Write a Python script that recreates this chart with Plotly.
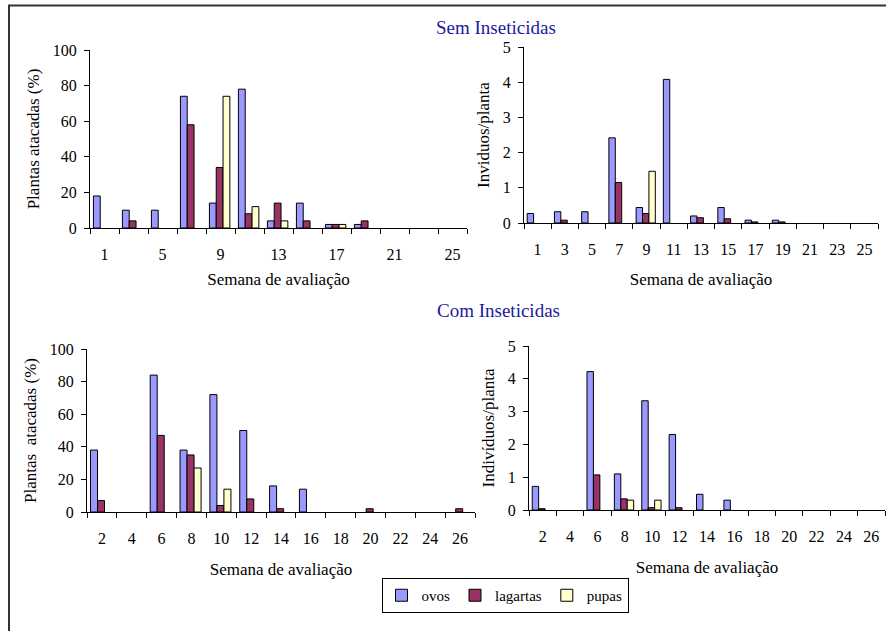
import plotly.graph_objects as go

# ---- data -------------------------------------------------------------
series = ["ovos", "lagartas", "pupas"]
colors = ["#9999FF", "#993366", "#FFFFCC"]

# Sem inseticidas (odd weeks)
weeks_sem = [1, 3, 5, 7, 9, 11, 13, 15, 17, 19, 21, 23, 25]
sem_pct_ovos = [18, 10, 10, 74, 14, 78, 4, 14, 2, 2, 0, 0, 0]
sem_pct_lagartas = [0, 4, 0, 58, 34, 8, 14, 4, 2, 4, 0, 0, 0]
sem_pct_pupas = [0, 0, 0, 0, 74, 12, 4, 0, 2, 0, 0, 0, 0]
sem_ind_ovos = [0.27, 0.32, 0.32, 2.42, 0.44, 4.08, 0.20, 0.44, 0.08, 0.08, 0, 0, 0]
sem_ind_lagartas = [0, 0.08, 0, 1.15, 0.27, 0, 0.15, 0.12, 0.03, 0.03, 0, 0, 0]
sem_ind_pupas = [0, 0, 0, 0, 1.47, 0, 0, 0, 0, 0, 0, 0, 0]

# Com inseticidas (even weeks)
weeks_com = [2, 4, 6, 8, 10, 12, 14, 16, 18, 20, 22, 24, 26]
com_pct_ovos = [38, 0, 84, 38, 72, 50, 16, 14, 0, 0, 0, 0, 0]
com_pct_lagartas = [7, 0, 47, 35, 4, 8, 2, 0, 0, 2, 0, 0, 2]
com_pct_pupas = [0, 0, 0, 27, 14, 0, 0, 0, 0, 0, 0, 0, 0]
com_ind_ovos = [0.72, 0, 4.22, 1.10, 3.33, 2.30, 0.48, 0.30, 0, 0, 0, 0, 0]
com_ind_lagartas = [0.04, 0, 1.07, 0.34, 0.07, 0.07, 0, 0, 0, 0, 0, 0, 0]
com_ind_pupas = [0, 0, 0, 0.30, 0.30, 0, 0, 0, 0, 0, 0, 0, 0]

ticks_tl = [1, 5, 9, 13, 17, 21, 25]
ticks_tr = weeks_sem
ticks_bottom = weeks_com

# ---- page geometry ----------------------------------------------------
W, H = 886, 631
FONT = "Liberation Serif, Times New Roman, serif"


def px_x(a, b):
    return [a / W, b / W]


def px_y(top, bottom):
    return [1 - bottom / H, 1 - top / H]


panels = [
    # axis suffix, x-domain, y-domain, weeks, values, y max, y dtick,
    # x labels, y title, x-title standoff
    ("", px_x(90, 467), px_y(50, 228), weeks_sem,
     [sem_pct_ovos, sem_pct_lagartas, sem_pct_pupas], 100, 20, ticks_tl,
     "Plantas atacadas (%)", 10),
    ("2", px_x(524, 878), px_y(47, 223), weeks_sem,
     [sem_ind_ovos, sem_ind_lagartas, sem_ind_pupas], 5, 1, ticks_tr,
     "Inviduos/planta", 15),
    ("3", px_x(87, 475), px_y(349, 512), weeks_com,
     [com_pct_ovos, com_pct_lagartas, com_pct_pupas], 100, 20, ticks_bottom,
     "Plantas  atacadas (%)", 16),
    ("4", px_x(529, 885), px_y(346, 510), weeks_com,
     [com_ind_ovos, com_ind_lagartas, com_ind_pupas], 5, 1, ticks_bottom,
     "Indivíduos/planta", 16),
]

BAR_W = 0.47          # bar width in week units (category spans 2 weeks)
FIRST_OFF = -0.765    # left edge of the first bar relative to the category centre

fig = go.Figure()
layout = {}

for p_idx, (sfx, xd, yd, weeks, vals, ymax, dtick, xlabels, ytitle, xstand) in enumerate(panels):
    for s_idx, (name, col, v) in enumerate(zip(series, colors, vals)):
        # zero counts are left empty so no flat outline is drawn on the axis
        shown = [val if val != 0 else None for val in v]
        fig.add_trace(go.Bar(
            x=weeks, y=shown, name=name,
            xaxis="x" + sfx, yaxis="y" + sfx,
            width=BAR_W, offset=FIRST_OFF + s_idx * BAR_W,
            marker=dict(color=col, line=dict(color="#000000", width=1)),
            showlegend=(p_idx == 0), legendgroup=name,
        ))
    lo, hi = weeks[0] - 1, weeks[-1] + 1
    bounds = list(range(lo, hi + 1, 2))
    layout["xaxis" + sfx] = dict(
        domain=xd, anchor="y" + sfx, range=[lo, hi],
        tickmode="array", tickvals=xlabels, ticktext=[str(t) for t in xlabels],
        ticks="", showline=True, linecolor="black", linewidth=1,
        showgrid=False, zeroline=False, ticklabelstandoff=12, automargin=False,
        minor=dict(tickmode="array", tickvals=bounds, ticks="outside",
                   ticklen=5, tickcolor="black", showgrid=False),
        tickfont=dict(family=FONT, size=16, color="black"),
        title=dict(text="Semana de avaliação", standoff=xstand,
                   font=dict(family=FONT, size=17, color="black")),
    )
    layout["yaxis" + sfx] = dict(
        domain=yd, anchor="x" + sfx, range=[0, ymax], dtick=dtick,
        ticks="outside", ticklen=5, tickcolor="black",
        showline=True, linecolor="black", linewidth=1,
        showgrid=False, zeroline=False, ticklabelstandoff=4, automargin=False,
        tickfont=dict(family=FONT, size=16, color="black"),
        title=dict(text=ytitle, standoff=8,
                   font=dict(family=FONT, size=17, color="black")),
    )

fig.update_layout(
    width=W, height=H,
    margin=dict(l=0, r=0, t=0, b=0, autoexpand=False),
    paper_bgcolor="white", plot_bgcolor="white",
    barmode="overlay",
    font=dict(family=FONT, color="black"),
    legend=dict(
        orientation="h", x=505 / W, y=1 - 578 / H,
        xanchor="center", yanchor="top",
        bordercolor="black", borderwidth=1,
        font=dict(family=FONT, size=15, color="black"),
        itemwidth=30, tracegroupgap=0,
    ),
    annotations=[
        dict(text="Sem Inseticidas", x=496 / W, y=1 - 27 / H,
             xref="paper", yref="paper", xanchor="center", yanchor="middle",
             showarrow=False,
             font=dict(family=FONT, size=19, color="#1a1aa0")),
        dict(text="Com Inseticidas", x=499 / W, y=1 - 310 / H,
             xref="paper", yref="paper", xanchor="center", yanchor="middle",
             showarrow=False,
             font=dict(family=FONT, size=19, color="#1a1aa0")),
    ],
    shapes=[
        dict(type="rect", xref="paper", yref="paper",
             x0=9 / W, x1=1.02, y0=-0.02, y1=1 - 5.5 / H,
             line=dict(color="#333333", width=2), layer="below"),
    ],
    **layout,
)

fig.write_html("out.html")
